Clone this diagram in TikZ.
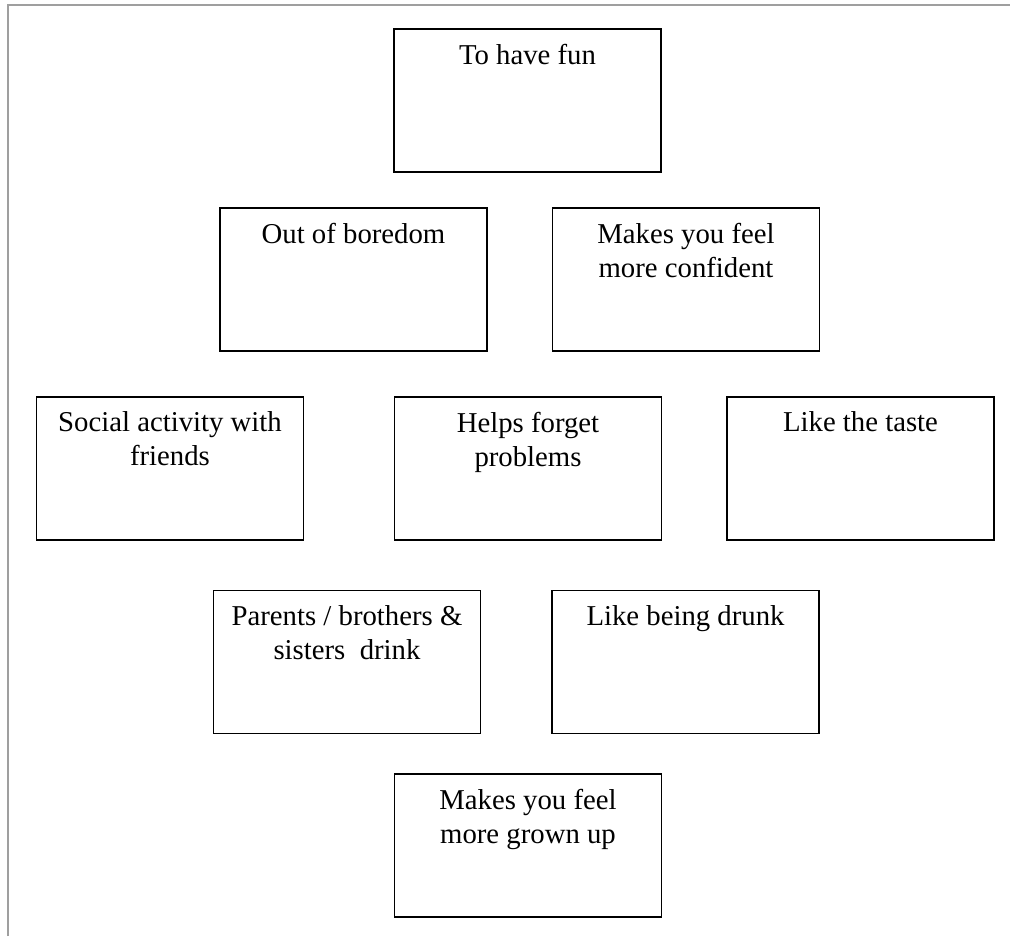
\documentclass[tikz,border=0pt]{standalone}
\usepackage{fontspec}
\setmainfont{Liberation Serif}
\usepackage{tikz}
\usetikzlibrary{positioning}

\tikzset{
  reason/.style={draw=black, line width=0.5pt, minimum width=106.8pt, minimum height=57.2pt, inner sep=0pt},
  reasontext/.style={anchor=north, inner sep=0pt, yshift=-6pt, align=center, font=\fontsize{11.5}{13.6}\selectfont},
}

\begin{document}
\begin{tikzpicture}[x=0.4pt, y=-0.4pt]
          \useasboundingbox (0,0) rectangle (1010,936);
          % Page frame
          \draw[gray!75, line width=0.7pt] (8,936) -- (8,5) -- (1010,5);
          % Top row
          \node[reason, label={[reasontext]north:To have fun}] (fun) at (527.5,100.5) {};
          % Second row
          \node[reason, label={[reasontext]north:Out of boredom}] (boredom) at (353.5,279.5) {};
          \node[reason, label={[reasontext]north:Makes you feel\\more confident}] (confident) at (686,279.5) {};
          % Middle row
          \node[reason, label={[reasontext]north:Social activity with\\friends}] (social) at (170,468.5) {};
          \node[reason, label={[reasontext]north:Helps forget\\problems}] (forget) at (528,468.5) {};
          \node[reason, label={[reasontext]north:Like the taste}] (taste) at (860.5,468.5) {};
          % Fourth row
          \node[reason, label={[reasontext]north:Parents / brothers \&\\sisters\ \ drink}] (family) at (347,662) {};
          \node[reason, label={[reasontext]north:Like being drunk}] (drunk) at (685.5,662) {};
          % Bottom row
          \node[reason, label={[reasontext]north:Makes you feel\\more grown up}] (grownup) at (528,845.5) {};
        \end{tikzpicture}
\end{document}
